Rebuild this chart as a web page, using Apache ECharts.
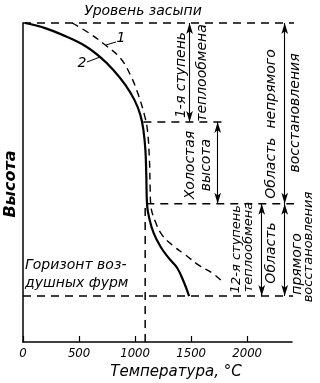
<!DOCTYPE html>
<html><head><meta charset="utf-8">
<script src="https://cdn.jsdelivr.net/npm/echarts@6/dist/echarts.min.js"></script>
<style>html,body{margin:0;padding:0;background:#fff}#c{width:320px;height:383px}</style>
</head><body><div id="c"></div>
<script>
// Temperature (°C) vs relative height (0..100, top = stock line)
const tempTicks = [0, 500, 1000, 1500, 2000];
const levels = { stock: 100, stage1End: 69, reserveEnd: 43.3, tuyere: 14.4 };
const coreTemp = 1090;
// curve 2 (solid)
const curve2T = [18, 197, 376, 555, 689, 806, 913, 994, 1047, 1074, 1092, 1100, 1107, 1125, 1165, 1230, 1301, 1376, 1435, 1482];
const curve2H = [100, 98.4, 95.9, 92.8, 89.3, 85.3, 80.6, 75.9, 71.2, 66.5, 60.2, 52.4, 42.9, 39.0, 34.2, 29.7, 26.3, 23.2, 18.8, 14.4];
// curve 1 (dashed)
const curve1T = [439, 600, 734, 868, 958, 1030, 1083, 1110, 1128, 1134, 1140, 1182, 1242, 1331, 1450, 1567, 1689, 1764];
const curve1H = [100, 96.6, 93.1, 89.0, 83.7, 77.4, 71.2, 66.5, 57.1, 49.0, 42.9, 37.6, 33.5, 30.4, 27.3, 24.1, 21.6, 19.4];

const zip = (a, b) => a.map((v, i) => [v, b[i]]);
const F = '"DejaVu Sans", sans-serif';
const chart = echarts.init(document.getElementById('c'), null, { renderer: 'canvas' });

function hline(h, t0, t1, w) {
  return { type: 'line', data: [[t0, h], [t1, h]], symbol: 'none', clip: false, silent: true,
    lineStyle: { color: '#000', width: w || 1.5, type: [8, 6] }, z: 2 };
}
function arrow(t, h0, h1) {
  return [{ coord: [t, h0] }, { coord: [t, h1] }];
}
function txt(s, x, y, size, rot, align, weight) {
  return {
    type: 'text', x: x, y: y, rotation: rot ? Math.PI / 2 : 0, silent: true,
    style: { text: s, fill: '#000', font: 'italic ' + (weight || '') + ' ' + size + 'px ' + F,
      align: align || 'center', verticalAlign: 'middle',
      textAlign: align || 'center', textVerticalAlign: 'middle' }
  };
}

chart.setOption({
  animation: false,
  backgroundColor: '#fff',
  grid: { left: 23, right: 28, top: 23, bottom: 41, containLabel: false },
  xAxis: {
    type: 'value', min: 0, max: 2400, interval: 500,
    axisLine: { show: true, lineStyle: { color: '#000', width: 1.5 } },
    axisTick: { show: true, inside: true, length: 6, lineStyle: { color: '#000', width: 1.2 } },
    axisLabel: { show: true, color: '#000', fontSize: 13, fontStyle: 'italic',
      fontFamily: '"Liberation Sans Narrow", "DejaVu Sans Condensed", sans-serif', margin: 5,
      showMaxLabel: false,
      formatter: v => (tempTicks.indexOf(v) >= 0 ? String(v) : '') },
    splitLine: { show: false }
  },
  yAxis: {
    type: 'value', min: 0, max: 100,
    axisLine: { show: true, lineStyle: { color: '#000', width: 1.5 } },
    axisTick: { show: false }, axisLabel: { show: false }, splitLine: { show: false }
  },
  series: [
    hline(levels.stock, 0, 2460, 1.6),
    hline(levels.stage1End, 1074, 1790),
    hline(levels.reserveEnd, 1100, 2420),
    hline(levels.tuyere, 0, 2410),
    { type: 'line', data: [[coreTemp, 0], [coreTemp, levels.reserveEnd]], symbol: 'none', silent: true,
      lineStyle: { color: '#000', width: 1.5, type: [8, 6] }, z: 2 },
    { type: 'line', data: zip(curve2T, curve2H), symbol: 'none', smooth: 0.4, silent: true,
      lineStyle: { color: '#000', width: 2.2 }, z: 3 },
    { type: 'line', data: zip(curve1T, curve1H), symbol: 'none', smooth: 0.4, silent: true,
      lineStyle: { color: '#000', width: 1.4, type: [7, 5] }, z: 3,
      markLine: {
        silent: true, symbol: ['arrow', 'arrow'], symbolSize: [5, 11],
        label: { show: false },
        lineStyle: { color: '#000', width: 1.1, type: 'solid' },
        data: [
          arrow(1486, levels.stock, levels.stage1End),
          arrow(1737, levels.stage1End, levels.reserveEnd),
          arrow(2130, levels.reserveEnd, levels.tuyere),
          arrow(2335, levels.stock, levels.reserveEnd),
          arrow(2335, levels.reserveEnd, levels.tuyere)
        ]
      }
    }
  ],
  graphic: [
    txt('Уровень засыпи', 143, 11, 14),
    txt('Высота', 11, 184, 16, true, 'center', 'bold'),
    txt('Горизонт воз-', 25, 265, 14, false, 'left'),
    txt('душных фурм', 25, 283, 14, false, 'left'),
    txt('Температура, °C', 176, 372, 15),
    txt('1-я ступень', 181, 75, 14, true),
    txt('теплообмена', 202, 73, 14, true),
    txt('Холостая', 190, 165, 14, true),
    txt('высота', 206, 165, 14, true),
    txt('Область  непрямого', 271, 124, 14, true),
    txt('восстановления', 295, 113, 14, true),
    txt('2-я ступень', 237, 245, 13, true),
    txt('1', 236, 289, 13, true),
    txt('теплообмена', 249, 247, 13, true),
    txt('Область', 271, 253, 14, true),
    txt('прямого', 297, 264, 14, true),
    txt('восстановления', 309, 247, 13, true),
    txt('1', 121, 38, 14),
    txt('2', 82, 63, 14),
    { type: 'line', silent: true, shape: { x1: 87, y1: 62, x2: 100, y2: 57 }, style: { stroke: '#000', lineWidth: 1 } },
    { type: 'line', silent: true, shape: { x1: 106, y1: 45, x2: 116, y2: 42 }, style: { stroke: '#000', lineWidth: 1 } }
  ]
});
</script></body></html>
